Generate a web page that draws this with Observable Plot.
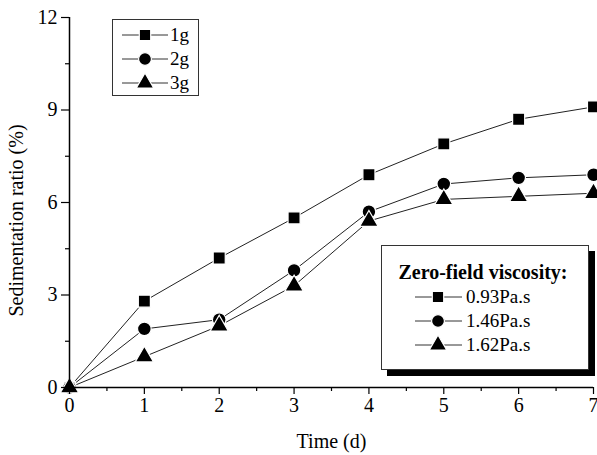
<!DOCTYPE html>
<html><head><meta charset="utf-8">
<script src="https://cdn.jsdelivr.net/npm/d3@7"></script>
<script src="https://cdn.jsdelivr.net/npm/@observablehq/plot@0.6"></script>
<style>
html,body{margin:0;padding:0;background:#fff;}
#chart{position:relative;width:597px;height:455px;}
#chart svg, #chart svg text { font-family: 'Liberation Serif', 'Times New Roman', serif !important; }
#chart svg text { font-size: 20px; }
#chart svg text.leg { font-size: 19px; }
</style>
</head><body><div id="chart"></div>
<script>
const days = [0, 1, 2, 3, 4, 5, 6, 7];
const s1g = [0, 2.8, 4.2, 5.5, 6.9, 7.9, 8.7, 9.1];
const s2g = [0, 1.9, 2.2, 3.8, 5.7, 6.6, 6.8, 6.9];
const s3g = [0, 1.0, 2.0, 3.3, 5.4, 6.1, 6.2, 6.3];
const seriesNames = ["1g", "2g", "3g"];
const viscosityNames = ["0.93Pa.s", "1.46Pa.s", "1.62Pa.s"];
const symbols = ["square", "circle", "triangle"];
const yTicks = [0, 3, 6, 9, 12];
const yMinor = [1.5, 4.5, 7.5, 10.5];
const xTicks = [0, 1, 2, 3, 4, 5, 6, 7];
const xMinor = [0.5, 1.5, 2.5, 3.5, 4.5, 5.5, 6.5];
const yLabel = "Sedimentation ratio (%)";
const xLabel = "Time (d)";
const legendTitle = "Zero-field viscosity:";

const allSeries = [s1g, s2g, s3g];
const data = [];
allSeries.forEach((vals, i) => vals.forEach((v, j) => data.push({day: days[j], value: v, series: seriesNames[i]})));

const font = "'Liberation Serif', 'Times New Roman', serif";
const chart = Plot.plot({
  width: 597, height: 455,
  marginLeft: 69, marginRight: 4, marginTop: 17, marginBottom: 68,
  style: {fontFamily: font, fontSize: "20px", color: "black", background: "white", overflow: "visible"},
  x: {domain: [0, 7]},
  y: {domain: [0, 12]},
  symbol: {domain: seriesNames, range: symbols},
  marks: [
    Plot.line(data, {x: "day", y: "value", z: "series", stroke: "#222", strokeWidth: 1}),
    Plot.dot(data, {x: "day", y: "value", symbol: "series", fill: "black", stroke: "white", strokeWidth: 1.2, r: 6.8}),
    Plot.ruleX([0], {stroke: "black", strokeWidth: 1.5}),
    Plot.ruleY([0], {stroke: "black", strokeWidth: 1.5}),
    Plot.axisY({ticks: yTicks, tickSize: 8, tickPadding: 4, tickFormat: d => String(d), label: null, stroke: "black", strokeWidth: 1.2}),
    Plot.axisY({ticks: yMinor, tickSize: 4, text: null, label: null, stroke: "black", strokeWidth: 1.2}),
    Plot.axisX({ticks: xTicks, tickSize: 7, tickPadding: 3, tickFormat: d => String(d), label: null, stroke: "black", strokeWidth: 1.2}),
    Plot.axisX({ticks: xMinor, tickSize: 4, text: null, label: null, stroke: "black", strokeWidth: 1.2}),
    Plot.text([yLabel], {text: d => d, frameAnchor: "left", textAnchor: "middle", lineAnchor: "middle", rotate: -90, dx: -53, dy: 18}),
    Plot.text([xLabel], {text: d => d, frameAnchor: "bottom", textAnchor: "middle", lineAnchor: "middle", dy: 54})
  ]
});
document.getElementById("chart").appendChild(chart);

const svg = d3.select(chart);
function symbolPath(name, size) {
  const t = {square: d3.symbolSquare, circle: d3.symbolCircle, triangle: d3.symbolTriangle}[name];
  return d3.symbol(t, size)();
}
// Legend 1
const g1 = svg.append("g").attr("text-anchor", "start");
g1.append("rect").attr("x", 112.5).attr("y", 19.5).attr("width", 86).attr("height", 76).attr("fill", "white").attr("stroke", "#333").attr("stroke-width", 1);
seriesNames.forEach((n, i) => {
  const y = 35 + i * 24;
  g1.append("line").attr("x1", 122).attr("x2", 168).attr("y1", y).attr("y2", y).attr("stroke", "#333").attr("stroke-width", 1);
  g1.append("path").attr("d", symbolPath(symbols[i], 130)).attr("transform", `translate(145,${y})`).attr("fill", "black").attr("stroke", "white").attr("stroke-width", 1.2);
  g1.append("text").attr("class", "leg").attr("x", 170).attr("y", y + 6).attr("text-anchor", "start").text(n);
});
// Legend 2 with shadow
const g2 = svg.append("g").attr("text-anchor", "start");
g2.append("rect").attr("x", 387).attr("y", 251).attr("width", 208).attr("height", 125).attr("fill", "black");
g2.append("rect").attr("x", 381.5).attr("y", 245.5).attr("width", 207).attr("height", 124).attr("fill", "white").attr("stroke", "#333").attr("stroke-width", 1);
g2.append("text").attr("x", 483).attr("y", 279).attr("text-anchor", "middle").attr("font-weight", "bold").text(legendTitle);
viscosityNames.forEach((n, i) => {
  const y = 297 + i * 24;
  g2.append("line").attr("x1", 415).attr("x2", 462).attr("y1", y).attr("y2", y).attr("stroke", "#333").attr("stroke-width", 1);
  g2.append("path").attr("d", symbolPath(symbols[i], 130)).attr("transform", `translate(438,${y})`).attr("fill", "black").attr("stroke", "white").attr("stroke-width", 1.2);
  g2.append("text").attr("class", "leg").attr("x", 466).attr("y", y + 6).attr("text-anchor", "start").text(n);
});
</script>
</body></html>
